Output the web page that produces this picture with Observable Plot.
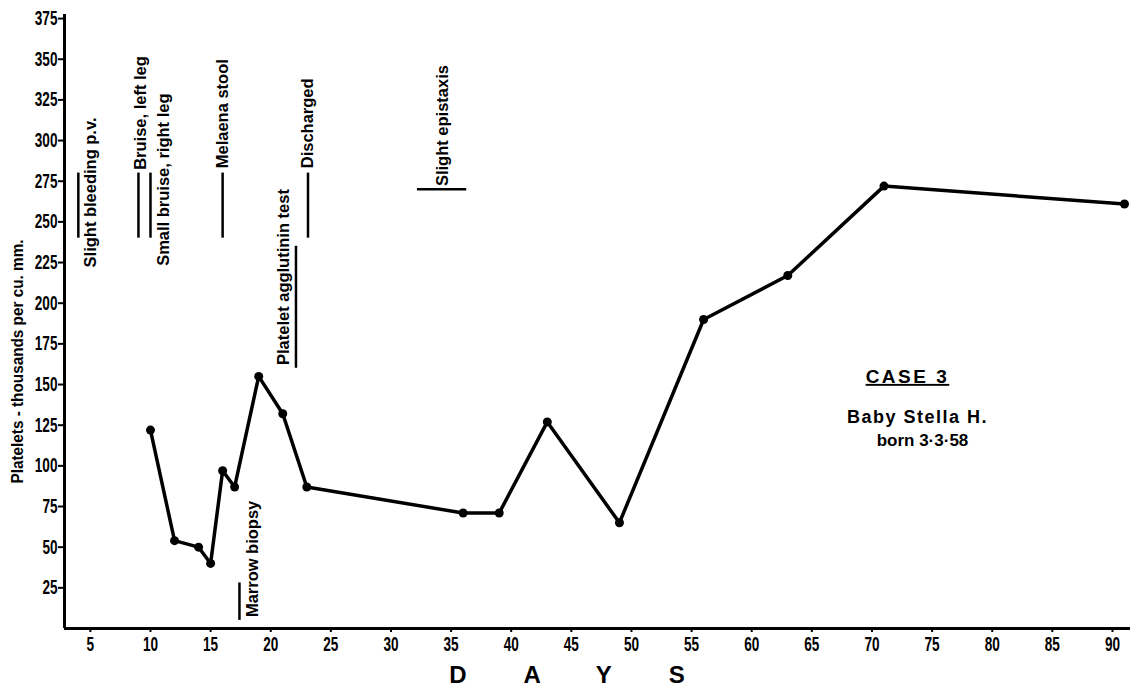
<!DOCTYPE html>
<html><head><meta charset="utf-8">
<script src="https://cdn.jsdelivr.net/npm/d3@7"></script>
<script src="https://cdn.jsdelivr.net/npm/@observablehq/plot@0.6"></script>
<style>
body{margin:0;background:#fff;}
</style></head><body><div id="chart"></div>
<script>
// Platelet counts (thousands per cu. mm.) by day
const days      = [10, 12, 14, 15, 16, 17, 19, 21, 23, 36, 39, 43, 49, 56, 63, 71, 91];
const platelets = [122, 54, 50, 40, 97, 87, 155, 132, 87, 71, 71, 127, 65, 190, 217, 272, 261];

// Axis tick labels
const xTicks = [5, 10, 15, 20, 25, 30, 35, 40, 45, 50, 55, 60, 65, 70, 75, 80, 85, 90];
const yTicks = [25, 50, 75, 100, 125, 150, 175, 200, 225, 250, 275, 300, 325, 350, 375];

// Clinical events (vertical markers)
const eventLabels = ["Slight bleeding p.v.", "Bruise, left leg", "Small bruise, right leg", "Melaena stool", "Marrow biopsy", "Platelet agglutinin test", "Discharged"];
const eventDay    = [4, 9, 10, 16, 17.4, 22.1, 23.1];
const eventFrom   = [240, 240, 240, 240, 5, 160, 240];
const eventTo     = [280, 280, 280, 280, 28, 235, 280];
const labelDay    = [5.0, 9.15, 11.1, 16.0, 18.5, 21.05, 23.05];
const labelFrom   = [222, 282, 223, 283, 7, 162, 283];

// Slight epistaxis (horizontal marker)
const epistaxisLabel = "Slight epistaxis";
const epistaxisDays = [32.2, 36.3];
const epistaxisLevel = 270;
const epistaxisLabelDay = 34.25;
const epistaxisLabelFrom = 272;

// Case caption
const caseLines = ["CASE 3", "Baby Stella H.", "born 3\u00B73\u00B758"];
const caseDay   = [72.95, 73.78, 74.2];
const caseLevel = [151, 126.5, 112.5];

const yTitle = "Platelets - thousands per cu. mm.";
const xTitle = "DAYS";

const data = days.map((d, i) => ({day: d, value: platelets[i]}));
const events = eventLabels.map((l, i) => ({label: l, day: eventDay[i], from: eventFrom[i], to: eventTo[i], lday: labelDay[i], lfrom: labelFrom[i]}));
const epi = [{label: epistaxisLabel, x1: epistaxisDays[0], x2: epistaxisDays[1], y: epistaxisLevel, lday: epistaxisLabelDay, lfrom: epistaxisLabelFrom}];
const caseData = caseLines.map((t, i) => ({text: t, day: caseDay[i], value: caseLevel[i], i}));

const font = '"Liberation Sans", Arial, sans-serif';
const xMin = 2.85, xMax = 91.5;

const chart = Plot.plot({
  width: 1136,
  height: 686,
  marginLeft: 64,
  marginRight: 6,
  marginTop: 14,
  marginBottom: 58,
  style: {fontFamily: font, fontSize: "18px", fontWeight: "bold", background: "#fff", color: "#000"},
  x: {domain: [xMin, xMax]},
  y: {domain: [0, 377.5]},
  marks: [
    Plot.axisX({ticks: xTicks, tickSize: 4, tickPadding: 4, strokeWidth: 2, label: null, fontSize: 20}),
    Plot.axisY({ticks: yTicks, tickSize: 6, tickPadding: 1, strokeWidth: 2, label: null, fontSize: 20}),
    Plot.ruleX([xMin], {strokeWidth: 3, stroke: "#000"}),
    Plot.ruleY([0], {strokeWidth: 3, stroke: "#000"}),
    Plot.line(data, {x: "day", y: "value", stroke: "#000", strokeWidth: 3.5, strokeLinejoin: "round"}),
    Plot.dot(data, {x: "day", y: "value", r: 4.5, fill: "#000"}),
    Plot.ruleX(events, {x: "day", y1: "from", y2: "to", stroke: "#000", strokeWidth: 2.5}),
    Plot.text(events, {x: "lday", y: "lfrom", text: "label", rotate: -90, textAnchor: "start", fontSize: 17, fontWeight: "bold"}),
    Plot.ruleY(epi, {x1: "x1", x2: "x2", y: "y", stroke: "#000", strokeWidth: 2.5}),
    Plot.text(epi, {x: "lday", y: "lfrom", text: "label", rotate: -90, textAnchor: "start", fontSize: 17, fontWeight: "bold"}),
    Plot.text(caseData, {x: "day", y: "value", text: "text", lineAnchor: "bottom", fontSize: d => d.i === 0 ? 19 : d.i === 1 ? 18 : 17, fontWeight: "bold"}),
    Plot.text([yTitle], {frameAnchor: "left", textAnchor: "middle", dx: -47, dy: 40, rotate: -90, fontSize: 17, fontWeight: "bold"}),
    Plot.text([xTitle], {frameAnchor: "bottom", textAnchor: "middle", dx: -2, dy: 54, lineAnchor: "bottom", fontSize: 24, fontWeight: "bold"})
  ]
});

document.getElementById("chart").appendChild(chart);

// Condensed lettering look: compress glyphs along the text direction
d3.select(chart).selectAll("text").each(function() {
  const t = d3.select(this);
  const s = t.text();
  if (s === xTitle) {
    t.style("letter-spacing", "57px");
    return;
  }
  if (s === caseLines[0]) {
    t.style("letter-spacing", "2.5px").style("text-decoration", "underline");
    return;
  }
  if (s === caseLines[1]) {
    t.style("letter-spacing", "1.5px");
    return;
  }
  if (s === caseLines[2]) return;
  let factor = 0.97;
  if (/^\d+$/.test(s)) factor = 0.68;
  if (s === yTitle) factor = 0.9;
  const len = this.getComputedTextLength();
  if (len > 0) {
    t.attr("textLength", (len * factor).toFixed(1)).attr("lengthAdjust", "spacingAndGlyphs");
  }
});
</script>
</body></html>
